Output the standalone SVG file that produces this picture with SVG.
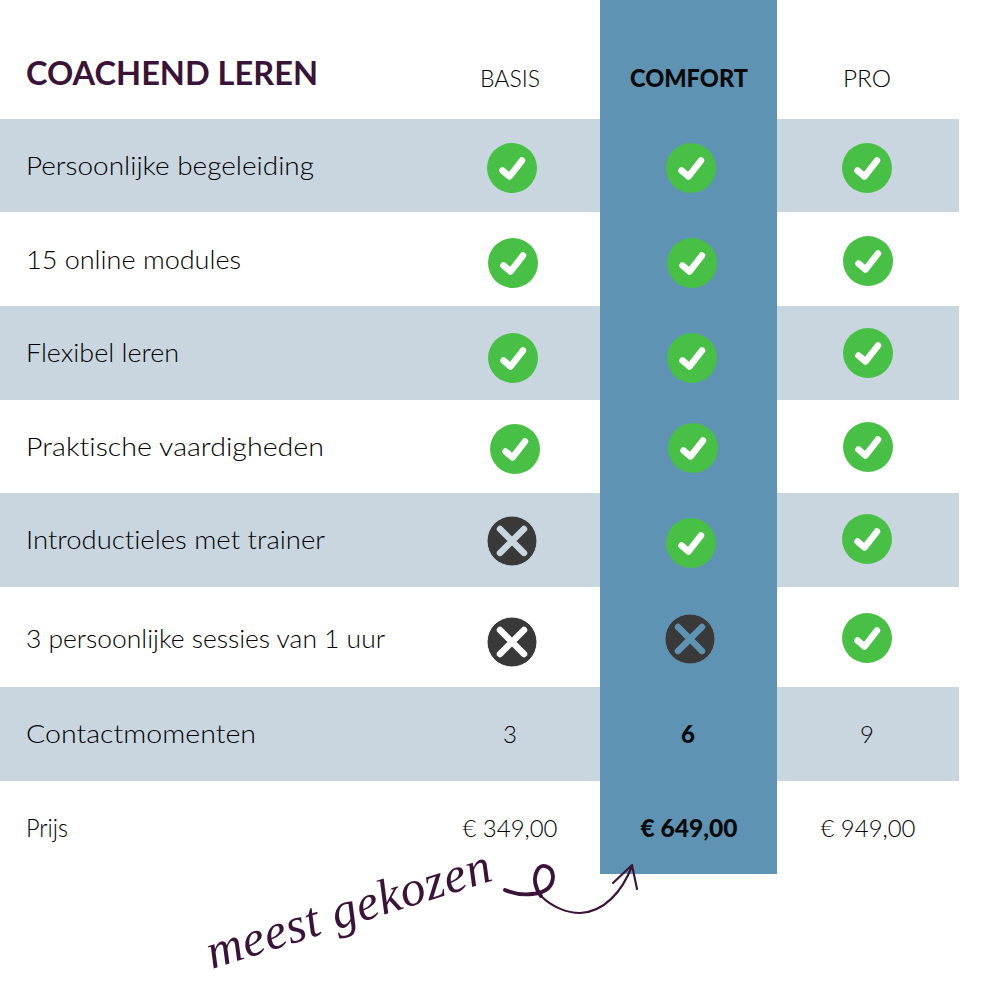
<svg xmlns="http://www.w3.org/2000/svg" width="1000" height="1000" viewBox="0 0 1000 1000">
<style>
text{font-variant-ligatures:none}
.band{fill:#c9d6e0}
.t{font-family:"Lato","Liberation Sans",sans-serif;font-size:25px;font-weight:300;fill:#000}
.c{font-family:"Lato","Liberation Sans",sans-serif;font-size:24px;font-weight:300;fill:#000;text-anchor:middle}
.b{font-family:"Lato","Liberation Sans",sans-serif;font-size:24px;font-weight:900;fill:#0a0a0a;text-anchor:middle}
.ck{fill:none;stroke:#fff;stroke-width:6.5;stroke-linecap:round;stroke-linejoin:round}
.x{fill:none;stroke-width:6.5;stroke-linecap:round}
</style>
<defs>
<g id="check"><circle r="25" fill="#48c045"/><path class="ck" d="M-9.500 2.500L-2.500 8.500L10 -7.500"/></g>
<g id="cross"><circle r="25" fill="#393939"/><path class="x" d="M-12 -12L12 12M12 -12L-12 12"/></g>
</defs>
<rect width="1000" height="1000" fill="#fff"/>
<g id="bands">
<rect class="band" x="0" y="119" width="959" height="93"/>
<rect class="band" x="0" y="306" width="959" height="94"/>
<rect class="band" x="0" y="493" width="959" height="94"/>
<rect class="band" x="0" y="687" width="959" height="94"/>
<rect x="600" y="0" width="177" height="874" fill="#5f93b4"/>
</g>
<g id="header">
<text x="26" y="85" font-family="Lato,'Liberation Sans',sans-serif" font-size="33" font-weight="700" fill="#3a1338" textLength="292" lengthAdjust="spacingAndGlyphs">COACHEND LEREN</text>
<text class="c" x="510" y="87" textLength="60" lengthAdjust="spacingAndGlyphs">BASIS</text>
<text class="b" x="689" y="87" textLength="118" lengthAdjust="spacingAndGlyphs">COMFORT</text>
<text class="c" x="867" y="87" textLength="48" lengthAdjust="spacingAndGlyphs">PRO</text>
</g>
<g id="labels">
<text class="t" x="26" y="175" textLength="288" lengthAdjust="spacingAndGlyphs">Persoonlijke begeleiding</text>
<text class="t" x="26" y="269" textLength="215" lengthAdjust="spacingAndGlyphs">15 online modules</text>
<text class="t" x="26" y="362" textLength="153" lengthAdjust="spacingAndGlyphs">Flexibel leren</text>
<text class="t" x="26" y="456" textLength="298" lengthAdjust="spacingAndGlyphs">Praktische vaardigheden</text>
<text class="t" x="26" y="549" textLength="299" lengthAdjust="spacingAndGlyphs">Introductieles met trainer</text>
<text class="t" x="26" y="648" textLength="359" lengthAdjust="spacingAndGlyphs">3 persoonlijke sessies van 1 uur</text>
<text class="t" x="26" y="743" textLength="230" lengthAdjust="spacingAndGlyphs">Contactmomenten</text>
<text class="t" x="26" y="837" textLength="42" lengthAdjust="spacingAndGlyphs">Prijs</text>
</g>
<g id="row1"><use href="#check" x="512" y="168"/><use href="#check" x="691" y="168"/><use href="#check" x="867" y="168"/></g>
<g id="row2"><use href="#check" x="513" y="263"/><use href="#check" x="692" y="263"/><use href="#check" x="868" y="261"/></g>
<g id="row3"><use href="#check" x="513" y="358"/><use href="#check" x="692" y="358"/><use href="#check" x="868" y="353"/></g>
<g id="row4"><use href="#check" x="515" y="449"/><use href="#check" x="693" y="448"/><use href="#check" x="868" y="447"/></g>
<g id="row5"><use href="#cross" x="512" y="541" stroke="#c9d6e0"/><use href="#check" x="691" y="543"/><use href="#check" x="867" y="539"/></g>
<g id="row6"><use href="#cross" x="512" y="642" stroke="#fff"/><use href="#cross" x="690" y="639" stroke="#5f93b4"/><use href="#check" x="867" y="638"/></g>
<g id="row7">
<text class="c" x="510" y="743">3</text>
<text class="b" x="688" y="743">6</text>
<text class="c" x="867" y="743">9</text>
</g>
<g id="row8">
<text class="c" x="510" y="837" textLength="95" lengthAdjust="spacingAndGlyphs">€ 349,00</text>
<text class="b" x="689" y="837" textLength="97" lengthAdjust="spacingAndGlyphs">€ 649,00</text>
<text class="c" x="868" y="837" textLength="95" lengthAdjust="spacingAndGlyphs">€ 949,00</text>
</g>
<g id="note">
<text transform="translate(212 969) rotate(-17.500)" font-family="'Liberation Serif',serif" font-style="italic" font-size="50" fill="#3a1338" textLength="296" lengthAdjust="spacing">meest gekozen</text>
</g>
<g id="connectors" fill="none" stroke="#3a1338" stroke-linecap="round" stroke-linejoin="round">
<path stroke-width="3.800" d="M505 890C512 893 522 895 532 894C544 893 553 888 553 876C552 866 541 862 537 871C533 878 535 888 541 896"/>
<path stroke-width="2.100" d="M541 896C552 907 567 913 580 913C604 912 622 892 632 866M613 883L632 865L637 889"/>
</g>
</svg>
